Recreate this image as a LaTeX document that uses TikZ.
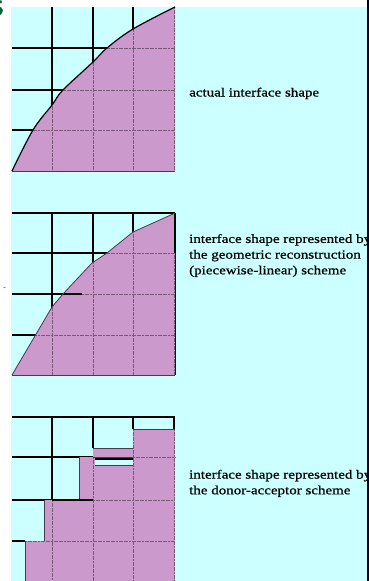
\documentclass[tikz,border=0pt]{standalone}
\usepackage{fontspec}
\setmainfont{Liberation Serif}[FakeStretch=1.2,FakeBold=0.8]
\definecolor{bgcyan}{RGB}{204,255,255}
\definecolor{purp}{RGB}{204,153,204}
\definecolor{ingrid}{RGB}{120,90,120}
\definecolor{edgegray}{RGB}{70,60,70}
\definecolor{darkgreen}{RGB}{0,100,50}
\tikzset{
  gridline/.style={black, line width=1.1pt},
  innerline/.style={ingrid, line width=1pt, dash pattern=on 2pt off 0.6pt},
  blockedge/.style={edgegray, line width=0.9pt},
  caption/.style={font=\fontsize{12.5}{15.7}\selectfont, align=left, anchor=base west, inner sep=0pt, text=black},
}
\begin{document}
\begin{tikzpicture}[x=1pt,y=-1pt]
\useasboundingbox (0,0) rectangle (369,581);
\clip (0,0) rectangle (369,581);
\fill[white] (0,0) rectangle (369,581);
\fill[bgcyan] (11,7) rectangle (368,581);
\node[text=darkgreen, font=\bfseries\fontsize{22}{22}\selectfont, anchor=east, inner sep=0pt] (glyph) at (4,8) {5};

% ---------- panel 1 ----------
\foreach \x in {52,93,133} \draw[gridline] (\x,7) -- (\x,171);
\foreach \y in {48,90,130} \draw[gridline] (12,\y) -- (175,\y);
\def\curveA{plot[smooth, tension=0.6] coordinates {(12,171) (33,130) (52,105) (63,90) (93,62) (107,48) (133,29) (175,7)}}
\fill[purp] \curveA -- (175,171) -- cycle;
\begin{scope}
  \clip \curveA -- (175,171) -- cycle;
  \foreach \x in {52,93,133,174} \draw[innerline] (\x,7) -- (\x,171);
  \foreach \y in {48,90,130} \draw[innerline] (12,\y) -- (175,\y);
\end{scope}
\draw[black, line width=1.2pt] \curveA;
\draw[edgegray, line width=1pt] (12,171) -- (175,171);

% ---------- panel 2 ----------
\draw[gridline] (12,213) -- (175,213);
\foreach \y in {253,294,335} \draw[gridline] (12,\y) -- (175,\y);
\foreach \x in {52,93,133,175} \draw[gridline] (\x,213) -- (\x,375);
\def\polyB{(12,375) -- (52,307) -- (63,294) -- (92,263) -- (107,253) -- (133,232) -- (173,214) -- (175,213) -- (175,375) -- cycle}
\fill[purp] \polyB;
\begin{scope}
  \clip \polyB;
  \foreach \x in {52,93,133,174} \draw[innerline] (\x,213) -- (\x,375);
  \foreach \y in {253,294,335} \draw[innerline] (12,\y) -- (175,\y);
\end{scope}
\draw[gridline] (12,294) -- (82,294);
\draw[gridline] (175,213) -- (175,253);
\draw[edgegray, line width=0.8pt] (12,375) -- (52,307) -- (63,294) -- (92,263) -- (107,253) -- (133,232) -- (173,214) -- (175,213);
\draw[edgegray, line width=1pt] (12,375) -- (175,375);
\draw[gray, line width=0.6pt] (3,288) -- (6,287);

% ---------- panel 3 ----------
\draw[gridline] (12,417) -- (175,417);
\draw[gridline] (12,457) -- (93,457);
\draw[gridline] (12,500) -- (93,500);
\draw[gridline] (12,541) -- (25,541);
\draw[gridline] (52,417) -- (52,500);
\draw[gridline] (93,417) -- (93,448);
\draw[gridline] (133,417) -- (133,429);
\draw[gridline] (174,417) -- (174,429);
\draw[gridline] (93,459) -- (133,459);
% blocks
\fill[purp] (133,429) rectangle (175,581);
\fill[purp] (93,448) rectangle (133,457);
\fill[purp] (93,465) rectangle (133,581);
\fill[purp] (79,457) rectangle (95,500);
\fill[purp] (52,500) rectangle (93,581);
\fill[purp] (44,500) rectangle (52,541);
\fill[purp] (25,541) rectangle (52,581);
% inner grid lines
\draw[innerline] (52,500) -- (52,581);
\draw[innerline] (93,457) -- (93,581);
\draw[innerline] (133,429) -- (133,581);
\draw[innerline] (174,429) -- (174,581);
\draw[innerline] (133,457) -- (175,457);
\draw[innerline] (93,500) -- (175,500);
\draw[innerline] (25,541) -- (175,541);
% block edges
\draw[blockedge] (133,429) -- (175,429);
\draw[blockedge] (93,448) -- (133,448);
\draw[blockedge] (93,457) -- (133,457);
\draw[blockedge] (95,465) -- (133,465);
\draw[blockedge] (79,457) -- (79,500);
\draw[blockedge] (44,500) -- (44,541);
\draw[blockedge] (25,541) -- (25,581);
\draw[gridline] (52,500) -- (93,500);

% ---------- captions ----------
\node[caption] (capA) at (189,96.5) {actual interface shape};
\node[caption] (capB) at (189,274.3) {interface shape represented by\\the geometric reconstruction\\(piecewise-linear) scheme};
\node[caption] (capC) at (189,494.3) {interface shape represented by\\the donor-acceptor scheme};

\draw[black!85!blue, line width=1.6pt] (368.2,0) -- (368.2,581);
\end{tikzpicture}
\end{document}
